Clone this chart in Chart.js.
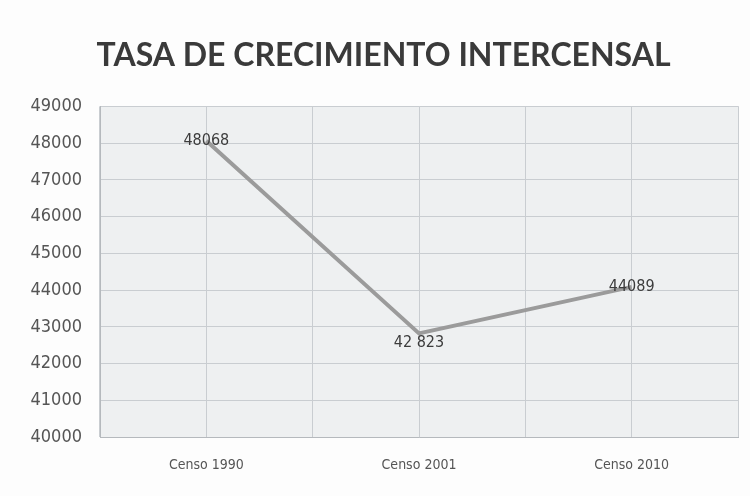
<!DOCTYPE html>
<html>
<head>
<meta charset="utf-8">
<script src="https://cdn.jsdelivr.net/npm/chart.js@4.4.0/dist/chart.umd.min.js"></script>
<style>
  html, body { margin: 0; padding: 0; background: #fdfdfd; }
  #wrap { width: 750px; height: 496px; }
</style>
</head>
<body>
<div id="wrap"><canvas id="chart" width="750" height="496"></canvas></div>
<script>
// datos del grafico
var categorias = ["Censo 1990", "Censo 2001", "Censo 2010"];
var poblacion = [48068, 42823, 44089];
var etiquetas = ["48068", "42 823", "44089"];
var ejeY = [40000, 41000, 42000, 43000, 44000, 45000, 46000, 47000, 48000, 49000];

// fondo gris del area de trazado
var fondoArea = {
  id: "fondoArea",
  beforeDraw: function(chart) {
    var a = chart.chartArea;
    var ctx = chart.ctx;
    ctx.save();
    ctx.fillStyle = "#eef0f1";
    ctx.fillRect(a.left, a.top, a.right - a.left, a.bottom - a.top);
    ctx.restore();
  }
};

// etiquetas de datos sobre cada punto
var etiquetasDatos = {
  id: "etiquetasDatos",
  afterDatasetsDraw: function(chart) {
    var ctx = chart.ctx;
    var meta = chart.getDatasetMeta(0);
    ctx.save();
    ctx.font = "16px 'DejaVu Sans Condensed', sans-serif";
    ctx.fillStyle = "#3c3c3c";
    ctx.textAlign = "center";
    ctx.textBaseline = "middle";
    meta.data.forEach(function(p, i) {
      var dy = i == 1 ? 9 : 0;
      ctx.fillText(etiquetas[i], p.x, p.y + dy);
    });
    ctx.restore();
  }
};

var ctx = document.getElementById("chart").getContext("2d");
new Chart(ctx, {
  type: "line",
  data: {
    labels: categorias,
    datasets: [{
      data: poblacion,
      borderColor: "#9b9b9b",
      borderWidth: 4,
      pointRadius: 0,
      tension: 0
    }]
  },
  options: {
    responsive: false,
    animation: false,
    layout: { padding: { left: 29, right: 12, top: 8, bottom: 2 } },
    plugins: {
      legend: { display: false },
      tooltip: { enabled: false },
      title: {
        display: true,
        text: "TASA DE CRECIMIENTO INTERCENSAL",
        color: "#3a3a3a",
        font: { family: "Lato", size: 32, weight: "bold" },
        padding: { top: 28, bottom: 32 }
      }
    },
    scales: {
      x: {
        offset: true,
        grid: { offset: true, color: "#c9cdd1", drawTicks: false },
        border: { color: "#b5b9bd" },
        ticks: {
          color: "#555",
          padding: 20,
          font: { family: "'DejaVu Sans Condensed', sans-serif", size: 14 }
        }
      },
      x2: {
        type: "linear",
        position: "bottom",
        min: 0,
        max: 6,
        grid: { color: "#c9cdd1", drawTicks: false },
        border: { display: false },
        ticks: { display: false, stepSize: 1 }
      },
      y: {
        min: 40000,
        max: 49000,
        afterBuildTicks: function(axis) {
          axis.ticks = ejeY.map(function(v) { return { value: v }; });
        },
        afterFit: function(axis) { axis.width = 71; },
        grid: { color: "#c9cdd1", drawTicks: false },
        border: { color: "#b5b9bd" },
        ticks: {
          color: "#555",
          padding: 18,
          font: { family: "'DejaVu Sans Condensed', sans-serif", size: 18 },
          callback: function(v) { return String(v); }
        }
      }
    }
  },
  plugins: [fondoArea, etiquetasDatos]
});
</script>
</body>
</html>
